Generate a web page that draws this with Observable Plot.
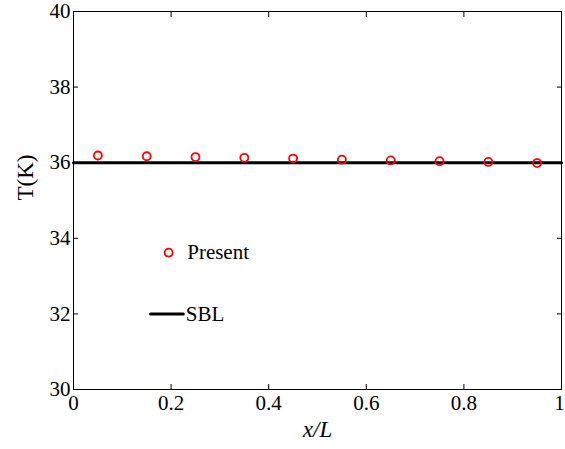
<!DOCTYPE html>
<html>
<head>
<meta charset="utf-8">
<script src="https://cdn.jsdelivr.net/npm/d3@7"></script>
<script src="https://cdn.jsdelivr.net/npm/@observablehq/plot@0.6"></script>
<style>
  html, body { margin: 0; padding: 0; background: #fff; }
</style>
</head>
<body>
<div id="chart"></div>
<script>
// Data
const xPos = [0.05, 0.15, 0.25, 0.35, 0.45, 0.55, 0.65, 0.75, 0.85, 0.95];
const presentT = [36.19, 36.17, 36.15, 36.13, 36.11, 36.08, 36.06, 36.04, 36.02, 35.99];
const sblX = [0, 1];
const sblT = [36.0, 36.0];
const xTicks = [0, 0.2, 0.4, 0.6, 0.8, 1];
const yTicks = [30, 32, 34, 36, 38, 40];
const xTickLabels = ["0", "0.2", "0.4", "0.6", "0.8", "1"];
const legendNames = ["Present", "SBL"];
const legendTextX = [0.233, 0.230];
const legendY = [33.62, 32.0];
const legendMarkX = [0.195];
const legendLineX = [0.158, 0.225];

const SERIF = '"Liberation Serif", Tinos, "Times New Roman", "DejaVu Serif", serif';
const present = xPos.map((x, i) => ({x, t: presentT[i]}));
const sbl = sblX.map((x, i) => ({x, t: sblT[i]}));
const xLabelData = xTicks.map((x, i) => ({x, label: xTickLabels[i]}));

const chart = Plot.plot({
  width: 565,
  height: 449,
  marginLeft: 73,
  marginRight: 4,
  marginTop: 11,
  marginBottom: 60,
  style: {fontSize: "20px", background: "#fff", fontFamily: SERIF},
  x: {domain: [0, 1]},
  y: {domain: [30, 40]},
  marks: [
    Plot.frame({stroke: "#000", strokeWidth: 1}),
    Plot.axisX(xTicks, {anchor: "bottom", tickSize: -5, text: null, label: null}),
    Plot.text(xLabelData.slice(0, 5), {x: "x", frameAnchor: "bottom", dy: 20, text: "label", fontSize: 21, fill: "#000"}),
    Plot.text(xLabelData.slice(5), {x: "x", frameAnchor: "bottom", dy: 20, dx: -2, text: "label", fontSize: 21, fill: "#000"}),
    Plot.axisX(xTicks, {anchor: "top", tickSize: -5, text: null, label: null}),
    Plot.axisY(yTicks, {anchor: "left", tickSize: -5, tickPadding: 8, fontSize: 21, fill: "#000", label: null}),
    Plot.axisY(yTicks, {anchor: "right", tickSize: -5, text: null, label: null}),
    Plot.line(sbl, {x: "x", y: "t", stroke: "#000", strokeWidth: 3}),
    Plot.dot(present, {x: "x", y: "t", r: 4, stroke: "#ff0000", strokeWidth: 1.8}),
    // legend
    Plot.dot(legendMarkX, {x: d => d, y: () => legendY[0], r: 4, stroke: "#ff0000", strokeWidth: 1.8}),
    Plot.line(legendLineX.map(x => ({x, t: legendY[1]})), {x: "x", y: "t", stroke: "#000", strokeWidth: 3}),
    Plot.text(legendNames, {x: (d, i) => legendTextX[i], y: (d, i) => legendY[i], text: d => d, textAnchor: "start", fontSize: 21, fill: "#000"}),
    // axis titles
    Plot.text(["x/L"], {frameAnchor: "bottom", dy: 47, text: d => d, fontSize: 23, fontStyle: "italic", fill: "#000"}),
    Plot.text(["T(K)"], {frameAnchor: "left", dx: -48, rotate: -90, text: d => d, fontSize: 23, fill: "#000"})
  ]
});
d3.select(chart).attr("font-family", SERIF).style("font-family", SERIF);
d3.select(chart).selectAll("text, g").attr("font-family", SERIF).style("font-family", SERIF);
document.getElementById("chart").appendChild(chart);
</script>
</body>
</html>
